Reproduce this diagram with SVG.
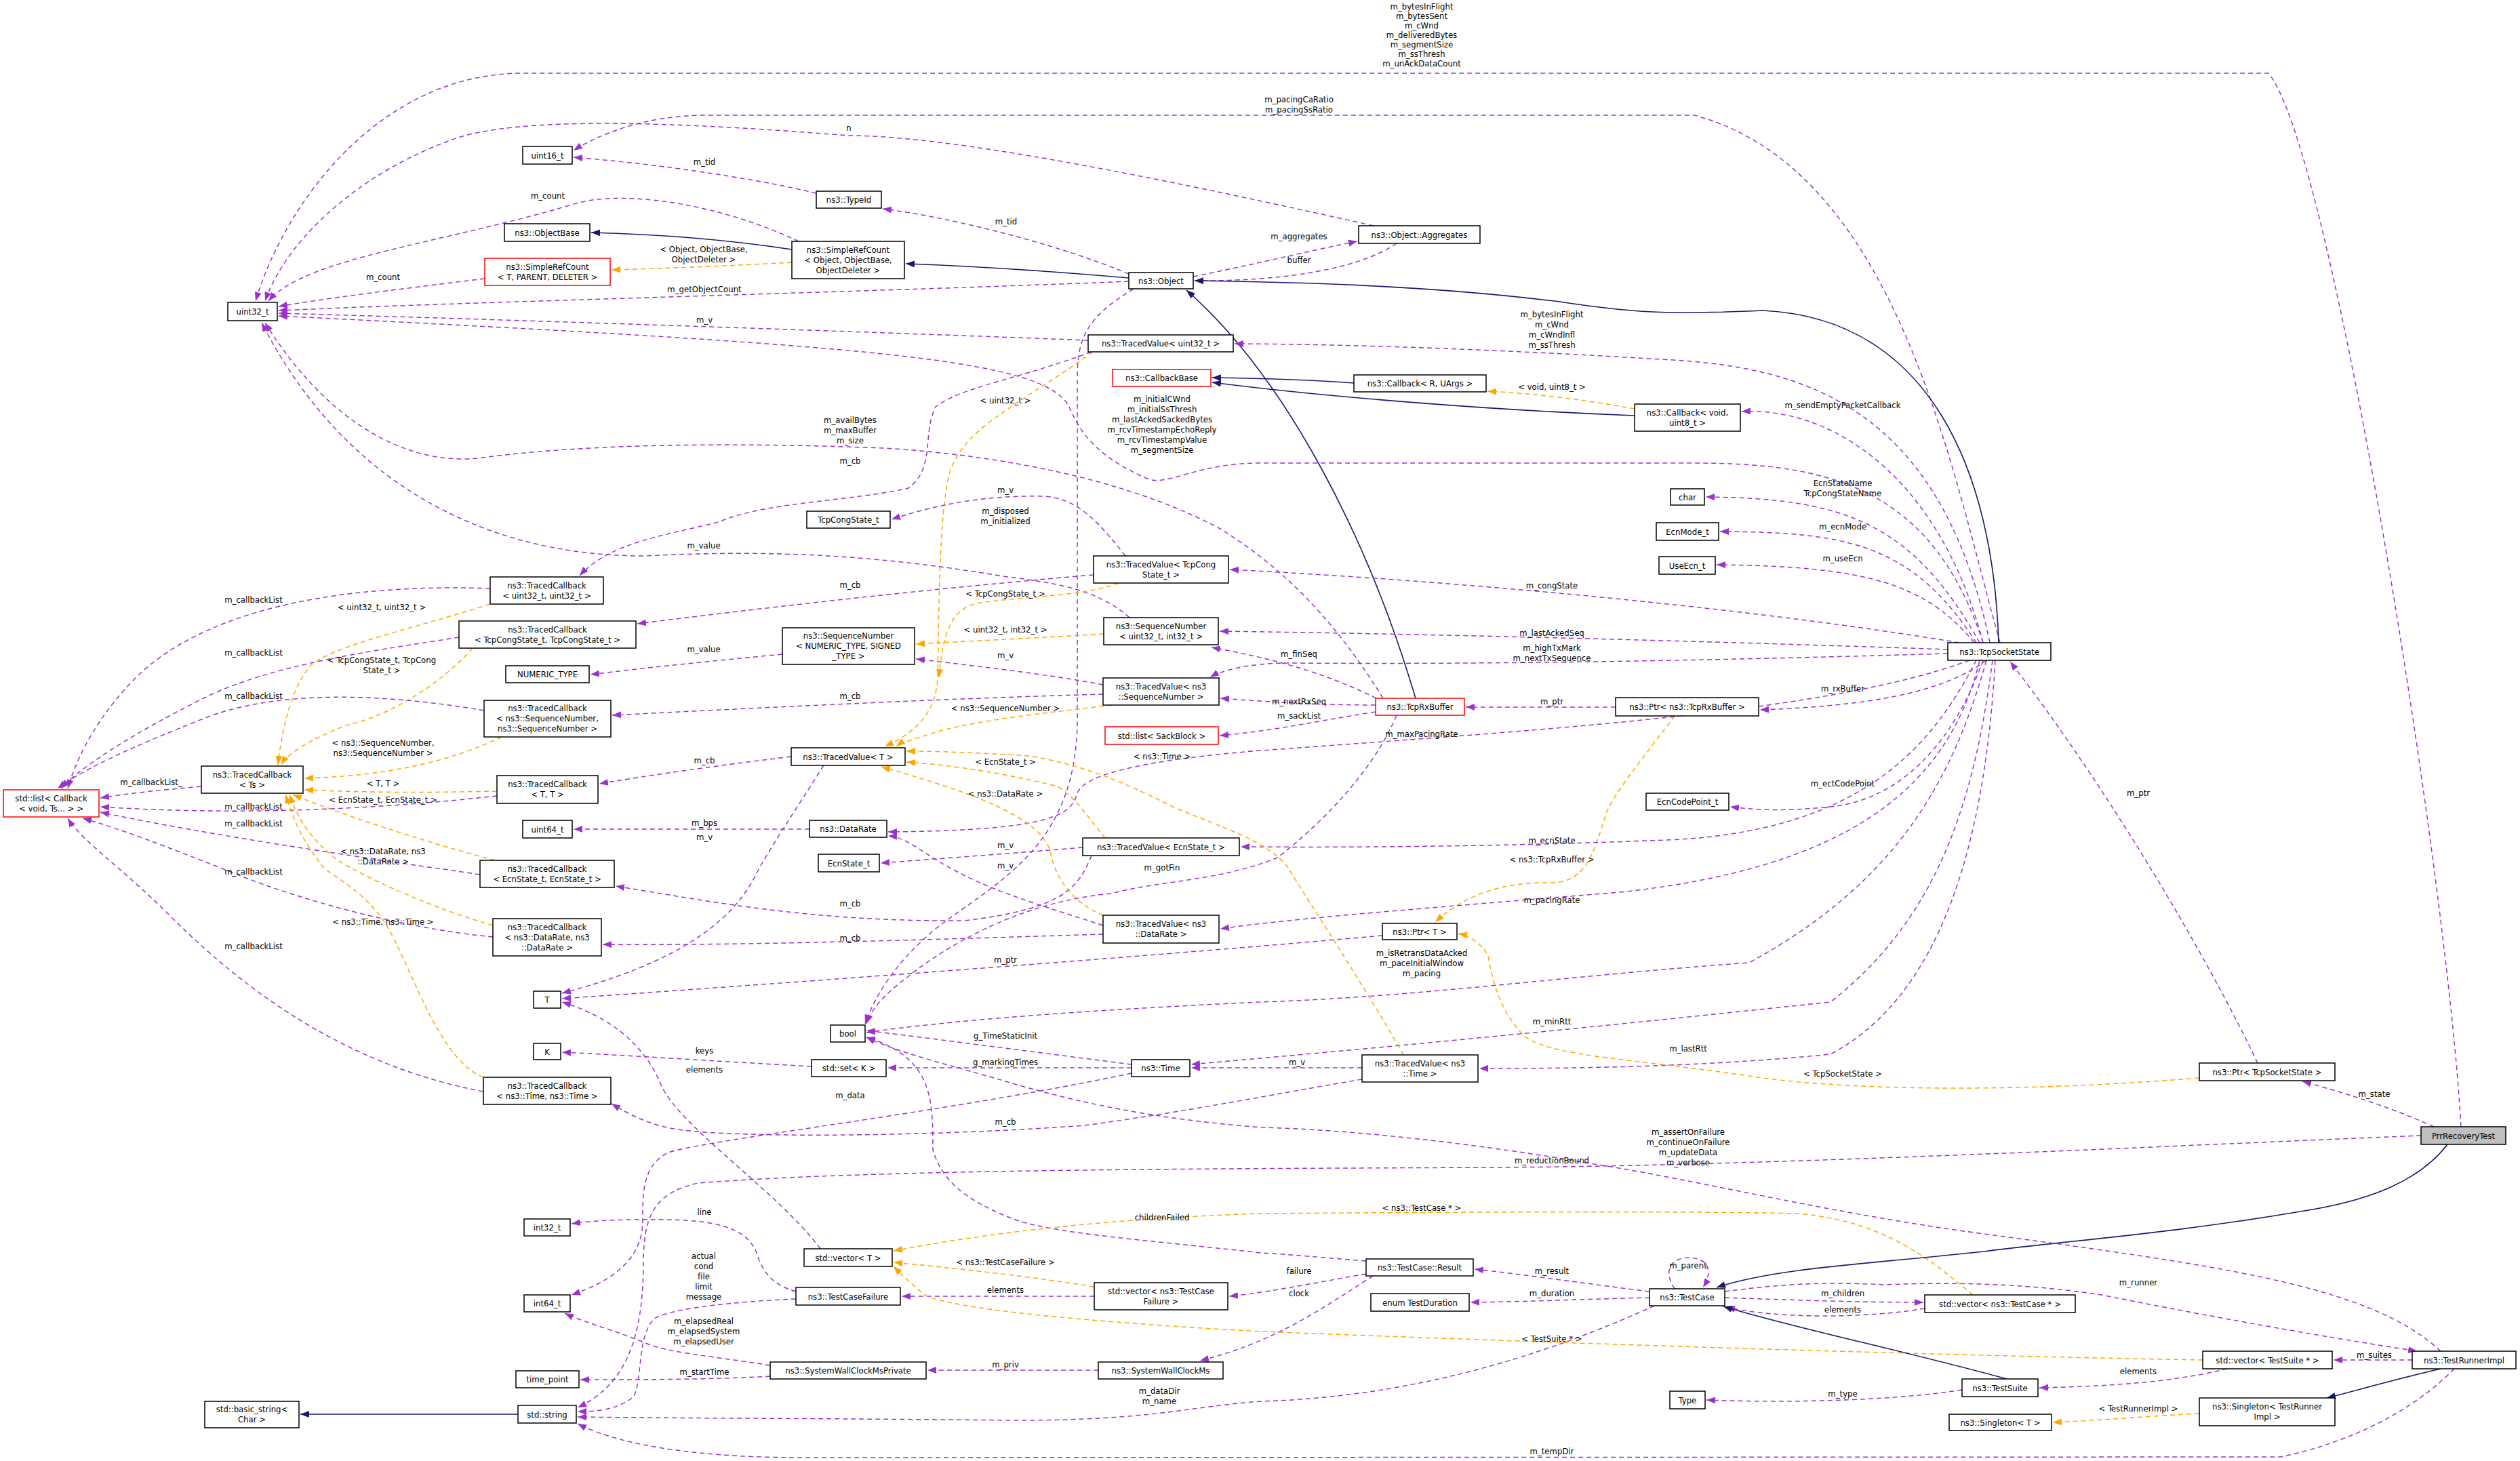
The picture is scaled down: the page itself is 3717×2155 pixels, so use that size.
<svg xmlns="http://www.w3.org/2000/svg" width="3717" height="2155" viewBox="0 0 3717 2155">
<style>
text{font-family:"DejaVu Sans Condensed","DejaVu Sans",sans-serif;font-size:13px;fill:#000}
.t{text-anchor:middle}
.l{text-anchor:middle}
.b rect{fill:#fff;stroke:#000;stroke-width:1.5}
.b.red rect{stroke:#ff0000}
.b.gray rect{fill:#bfbfbf}
.p{fill:none;stroke:#9a32cd;stroke-width:1.5;stroke-dasharray:7,5;marker-end:url(#mp)}
.o{fill:none;stroke:#ffa500;stroke-width:1.5;stroke-dasharray:7,5;marker-end:url(#mo)}
.n{fill:none;stroke:#191970;stroke-width:1.6;marker-end:url(#mn)}
</style>
<defs>
<marker id="mp" markerUnits="userSpaceOnUse" markerWidth="14" markerHeight="12" refX="13" refY="5" orient="auto"><path d="M0,0 L13,5 L0,10 z" fill="#9a32cd"/></marker>
<marker id="mo" markerUnits="userSpaceOnUse" markerWidth="14" markerHeight="12" refX="13" refY="5" orient="auto"><path d="M0,0 L13,5 L0,10 z" fill="#ffa500"/></marker>
<marker id="mn" markerUnits="userSpaceOnUse" markerWidth="14" markerHeight="12" refX="13" refY="5" orient="auto"><path d="M0,0 L13,5 L0,10 z" fill="#191970"/></marker>
</defs>
<rect width="3717" height="2155" fill="#fff"/>
<g id="edges">
<path class="p" d="M3630,1662 C3610,1300 3440,220 3346,108 L771,108 C560,108 420,300 377,444"/>
<path class="p" d="M2950,948 C2880,700 2800,250 2499,170 L1040,170 C950,170 880,200 846,222"/>
<path class="p" d="M2026,333 C1700,260 1400,200 1252,200 C1000,180 760,170 664,207 C520,260 420,360 391,444"/>
<path class="p" d="M1204,285 C1100,260 950,240 846,232"/>
<path class="p" d="M1665,404 C1560,360 1400,320 1302,308"/>
<path class="p" d="M1178,356 C1060,300 920,280 850,300 C650,360 450,380 396,444"/>
<path class="n" d="M1168,368 C1050,350 950,345 872,343"/>
<path class="o" d="M1168,387 C1080,392 980,396 902,398"/>
<path class="p" d="M715,411 C600,425 480,440 411,452"/>
<path class="n" d="M1665,410 C1550,400 1420,392 1336,389"/>
<path class="p" d="M1665,415 C1300,430 700,445 411,458"/>
<path class="p" d="M1605,502 C1300,490 700,470 411,462"/>
<path class="p" d="M1760,408 C1850,390 1940,368 2002,356"/>
<path class="p" d="M2060,359 C2000,400 1880,415 1762,414"/>
<path class="n" d="M2948,948 C2940,700 2850,470 2600,458 C2450,465 2400,460 2300,445 C2100,420 1900,416 1762,414"/>
<path class="n" d="M2088,1030 C2020,800 1900,560 1750,428"/>
<path class="p" d="M2935,948 C2860,590 2650,540 2450,530 C2200,515 2000,508 1821,507"/>
<path class="n" d="M1997,565 C1930,560 1850,558 1788,557"/>
<path class="n" d="M2411,613 C2200,605 1950,585 1788,564"/>
<path class="o" d="M2411,603 C2340,590 2260,580 2194,577"/>
<path class="p" d="M2925,948 C2860,700 2700,600 2569,607"/>
<path class="p" d="M1610,519 C1500,560 1420,570 1380,600 C1360,640 1380,690 1340,720 C1250,740 1130,740 1060,770 C980,790 900,800 855,849"/>
<path class="o" d="M1612,519 C1500,600 1420,630 1400,700 C1385,760 1385,900 1383,1000 C1380,1060 1340,1085 1305,1101"/>
<path class="p" d="M2925,948 C2850,720 2700,683 2499,683 L1860,683 C1760,683 1720,720 1690,705 C1610,670 1590,630 1577,600 C1540,530 1300,510 411,466"/>
<path class="p" d="M2040,1030 C1960,900 1880,830 1800,780 C1650,700 1450,670 1305,661 C1150,655 900,650 712,675 C600,690 480,620 391,476"/>
<path class="p" d="M1660,820 C1620,770 1590,735 1540,732 C1450,730 1380,745 1315,766"/>
<path class="p" d="M1672,426 C1600,470 1589,500 1589,560 L1589,1060 C1589,1250 1470,1300 1380,1370 C1320,1420 1290,1470 1276,1510"/>
<path class="p" d="M1666,911 C1620,870 1560,860 1480,850 C1300,820 1150,810 950,820 C700,820 500,700 386,476"/>
<path class="p" d="M1613,848 C1350,870 1100,900 940,920"/>
<path class="o" d="M1650,860 C1600,880 1500,880 1440,890 C1400,900 1390,940 1385,1000"/>
<path class="p" d="M723,868 C500,860 300,900 200,1000 C150,1050 115,1110 100,1163"/>
<path class="o" d="M723,891 C600,930 500,950 460,980 C430,1010 415,1080 410,1128"/>
<path class="p" d="M677,940 C550,960 400,980 300,1030 C200,1080 120,1130 90,1163"/>
<path class="o" d="M697,956 C640,1020 560,1060 510,1070 C460,1090 425,1110 415,1128"/>
<path class="o" d="M1628,935 C1550,940 1420,946 1351,950"/>
<path class="p" d="M1154,965 C1050,975 950,985 871,995"/>
<path class="p" d="M1627,1010 C1550,995 1420,980 1351,972"/>
<path class="p" d="M2873,964 C2500,975 2200,980 1900,978 C1840,978 1800,990 1785,999"/>
<path class="p" d="M2873,958 C2500,945 2100,935 1799,931"/>
<path class="p" d="M1627,1024 C1400,1030 1100,1045 903,1055"/>
<path class="o" d="M1640,1040 C1560,1050 1450,1060 1380,1080 C1350,1090 1330,1095 1322,1101"/>
<path class="p" d="M714,1048 C550,1020 400,1020 300,1060 C200,1100 130,1130 85,1163"/>
<path class="o" d="M740,1087 C650,1130 550,1145 449,1148"/>
<path class="p" d="M2920,948 C2820,770 2720,735 2516,733"/>
<path class="p" d="M2915,948 C2820,800 2720,785 2537,784"/>
<path class="p" d="M2912,948 C2840,860 2750,835 2532,833"/>
<path class="p" d="M2890,948 C2600,900 2200,860 1814,840"/>
<path class="p" d="M2930,974 C2880,1010 2800,1040 2596,1047"/>
<path class="p" d="M2383,1043 C2300,1043 2230,1043 2162,1043"/>
<path class="o" d="M2470,1056 C2430,1110 2380,1170 2369,1200 C2350,1260 2340,1300 2290,1302 C2200,1300 2150,1330 2117,1360"/>
<path class="p" d="M2030,1030 C1950,990 1870,970 1787,955"/>
<path class="p" d="M2029,1040 C1950,1040 1880,1036 1800,1030"/>
<path class="p" d="M2029,1050 C1950,1062 1880,1078 1799,1085"/>
<path class="p" d="M2905,974 C2700,1050 2300,1075 1860,1107 C1700,1120 1600,1140 1589,1170 C1580,1200 1560,1225 1310,1227"/>
<path class="p" d="M2060,1055 C2020,1150 1930,1230 1884,1265 C1800,1300 1700,1300 1640,1318 C1500,1330 1390,1400 1340,1440 C1300,1470 1285,1490 1278,1510"/>
<path class="p" d="M2925,974 C2880,1100 2800,1180 2700,1190 C2640,1196 2600,1196 2552,1190"/>
<path class="p" d="M2915,974 C2850,1100 2750,1220 2480,1238 C2200,1250 1950,1250 1830,1249"/>
<path class="p" d="M1597,1250 C1500,1258 1380,1267 1299,1273"/>
<path class="p" d="M1610,1262 C1590,1310 1570,1340 1423,1358 C1200,1360 1050,1330 908,1307"/>
<path class="o" d="M1630,1236 C1600,1200 1590,1180 1560,1160 C1480,1140 1400,1128 1337,1124"/>
<path class="p" d="M2920,974 C2870,1180 2700,1280 2400,1315 C2100,1340 1900,1355 1800,1370"/>
<path class="p" d="M1627,1365 C1550,1340 1480,1320 1420,1290 C1360,1260 1340,1235 1310,1233"/>
<path class="p" d="M1627,1378 C1400,1385 1100,1395 889,1393"/>
<path class="o" d="M1627,1350 C1600,1340 1560,1310 1550,1260 C1540,1200 1400,1160 1300,1131"/>
<path class="p" d="M1194,1223 C1100,1223 950,1223 846,1223"/>
<path class="p" d="M1167,1116 C1050,1130 950,1145 884,1156"/>
<path class="p" d="M1215,1129 C1170,1200 1130,1260 1115,1290 C1080,1360 1000,1420 829,1465"/>
<path class="p" d="M733,1174 C500,1200 300,1200 148,1190"/>
<path class="o" d="M733,1167 C600,1170 520,1168 449,1165"/>
<path class="p" d="M297,1160 C240,1165 190,1170 148,1177"/>
<path class="p" d="M708,1290 C500,1260 300,1230 148,1198"/>
<path class="o" d="M730,1269 C620,1240 500,1200 432,1172"/>
<path class="p" d="M727,1382 C600,1370 450,1330 350,1290 C250,1250 170,1220 122,1207"/>
<path class="o" d="M727,1365 C640,1340 550,1300 500,1270 C460,1240 440,1210 427,1172"/>
<path class="p" d="M713,1610 C500,1570 350,1450 250,1350 C180,1280 120,1240 100,1207"/>
<path class="o" d="M713,1589 C640,1560 600,1400 560,1350 C520,1300 480,1290 470,1270 C440,1230 430,1200 421,1172"/>
<path class="p" d="M2930,974 C2880,1150 2800,1300 2580,1420 C2300,1440 2100,1470 1860,1478 C1600,1490 1400,1505 1278,1523"/>
<path class="p" d="M2939,974 C2910,1200 2850,1360 2700,1478 C2400,1510 2100,1540 1757,1570"/>
<path class="p" d="M2943,974 C2930,1200 2880,1460 2700,1555 C2500,1575 2300,1576 2182,1576"/>
<path class="p" d="M2039,1380 C1700,1410 1300,1440 829,1473"/>
<path class="o" d="M3244,1590 C3000,1610 2750,1610 2600,1590 C2400,1560 2300,1560 2250,1530 C2210,1490 2200,1440 2195,1410 C2185,1390 2165,1380 2151,1377"/>
<path class="p" d="M3330,1568 C3250,1400 3100,1150 2965,976"/>
<path class="p" d="M3590,1662 C3520,1630 3450,1610 3396,1595"/>
<path class="p" d="M2009,1575 C1900,1575 1820,1575 1757,1575"/>
<path class="p" d="M2009,1592 C1900,1610 1750,1640 1600,1660 C1400,1675 1100,1680 1000,1666 C960,1660 930,1645 902,1628"/>
<path class="o" d="M2070,1556 C2010,1450 1930,1330 1900,1280 C1870,1240 1800,1220 1730,1190 C1650,1150 1600,1130 1520,1115 C1440,1110 1380,1108 1337,1108"/>
<path class="p" d="M1669,1570 C1550,1555 1400,1535 1278,1520"/>
<path class="p" d="M1669,1575 C1550,1575 1420,1575 1309,1575"/>
<path class="p" d="M1197,1573 C1050,1565 950,1558 829,1552"/>
<path class="p" d="M1210,1842 C1150,1760 1000,1660 975,1600 C950,1540 900,1500 829,1478"/>
<path class="p" d="M1669,1583 C1400,1640 1050,1680 985,1700 C950,1720 948,1750 948,1800 C948,1860 900,1890 843,1910"/>
<path class="p" d="M1174,1916 C1080,1920 990,1930 965,1945 C940,1970 948,2030 935,2060 C910,2080 880,2082 852,2082"/>
<path class="p" d="M1174,1905 C1140,1895 1130,1880 1120,1860 C1110,1820 1080,1800 980,1799 C920,1798 880,1800 843,1805"/>
<path class="o" d="M1614,1898 C1500,1880 1400,1870 1318,1862"/>
<path class="p" d="M1614,1912 C1500,1912 1400,1912 1330,1912"/>
<path class="p" d="M2015,1879 C1950,1890 1880,1905 1813,1912"/>
<path class="p" d="M2025,1882 C1950,1930 1880,1980 1770,2007"/>
<path class="p" d="M2015,1860 C1950,1855 1900,1850 1860,1848 C1700,1830 1560,1820 1500,1800 C1420,1770 1390,1740 1376,1697 C1376,1620 1376,1560 1278,1530"/>
<path class="p" d="M1620,2021 C1550,2021 1450,2021 1368,2021"/>
<path class="p" d="M1136,2014 C1050,2000 980,1995 950,1980 C900,1960 860,1950 833,1937"/>
<path class="p" d="M1136,2030 C1050,2035 950,2035 856,2035"/>
<path class="n" d="M764,2086 C650,2086 550,2086 443,2086"/>
<path class="p" d="M2433,1905 C2350,1895 2250,1880 2175,1872"/>
<path class="p" d="M2433,1914 C2350,1916 2250,1920 2169,1921"/>
<path class="p" d="M2470,1901 C2450,1870 2470,1855 2490,1855 C2515,1855 2530,1870 2512,1899"/>
<path class="p" d="M2544,1914 C2650,1918 2750,1921 2837,1921"/>
<path class="p" d="M2839,1930 C2750,1945 2620,1945 2546,1928"/>
<path class="o" d="M2910,1910 C2850,1860 2780,1800 2650,1790 C2500,1786 2100,1788 1860,1790 C1700,1795 1500,1810 1318,1845"/>
<path class="p" d="M2440,1926 C2300,1990 2100,2060 1860,2067 C1750,2075 1700,2095 1500,2095 C1200,2092 1000,2092 852,2090"/>
<path class="o" d="M3249,2006 C2900,2000 2400,1985 1860,1964 C1600,1950 1400,1930 1364,1910 C1340,1890 1330,1880 1318,1868"/>
<path class="p" d="M3558,2006 C3520,2006 3480,2006 3442,2006"/>
<path class="p" d="M3285,2019 C3200,2040 3100,2045 3008,2047"/>
<path class="n" d="M2960,2034 C2800,1990 2650,1960 2542,1927"/>
<path class="p" d="M2894,2050 C2800,2065 2650,2070 2517,2065"/>
<path class="n" d="M3600,2019 C3530,2035 3480,2050 3432,2062"/>
<path class="o" d="M3244,2085 C3150,2090 3100,2095 3028,2098"/>
<path class="n" d="M3610,1688 C3570,1740 3500,1770 3399,1786 C3200,1820 3050,1830 2926,1846 C2750,1865 2620,1870 2532,1899"/>
<path class="p" d="M2544,1905 C2620,1895 2680,1890 2780,1895 C2900,1890 3000,1895 3100,1910 C3300,1950 3450,1975 3565,1993"/>
<path class="p" d="M3600,1993 C3500,1900 3300,1870 2926,1820 C2700,1790 2500,1740 2357,1718 C2200,1690 2000,1666 1860,1663 C1700,1650 1600,1628 1500,1600 C1400,1570 1330,1555 1278,1530"/>
<path class="p" d="M3571,1675 C3200,1690 2600,1720 2200,1722 C1800,1724 1300,1724 1030,1745 C960,1760 950,1800 949,1860 C949,1960 930,2040 852,2076"/>
<path class="p" d="M3620,2019 C3580,2060 3500,2120 3364,2149 L1186,2150 C1000,2150 900,2125 852,2100"/>
</g>
<g id="labels">
<text class="l" x="2097" y="14">m_bytesInFlight</text>
<text class="l" x="2097" y="28">m_bytesSent</text>
<text class="l" x="2097" y="42">m_cWnd</text>
<text class="l" x="2097" y="56">m_deliveredBytes</text>
<text class="l" x="2097" y="70">m_segmentSize</text>
<text class="l" x="2097" y="84">m_ssThresh</text>
<text class="l" x="2097" y="98">m_unAckDataCount</text>
<text class="l" x="1916" y="151">m_pacingCaRatio</text>
<text class="l" x="1916" y="166">m_pacingSsRatio</text>
<text class="l" x="1252" y="193">n</text>
<text class="l" x="1039" y="243">m_tid</text>
<text class="l" x="1484" y="331">m_tid</text>
<text class="l" x="808" y="293">m_count</text>
<text class="l" x="1038" y="372">&lt; Object, ObjectBase,</text>
<text class="l" x="1038" y="387">ObjectDeleter &gt;</text>
<text class="l" x="565" y="413">m_count</text>
<text class="l" x="1039" y="431">m_getObjectCount</text>
<text class="l" x="1039" y="476">m_v</text>
<text class="l" x="1916" y="353">m_aggregates</text>
<text class="l" x="1916" y="388">buffer</text>
<text class="l" x="2289" y="468">m_bytesInFlight</text>
<text class="l" x="2289" y="483">m_cWnd</text>
<text class="l" x="2289" y="498">m_cWndInfl</text>
<text class="l" x="2289" y="513">m_ssThresh</text>
<text class="l" x="2289" y="575">&lt; void, uint8_t &gt;</text>
<text class="l" x="2718" y="602">m_sendEmptyPacketCallback</text>
<text class="l" x="1483" y="595">&lt; uint32_t &gt;</text>
<text class="l" x="1714" y="593">m_initialCWnd</text>
<text class="l" x="1714" y="608">m_initialSsThresh</text>
<text class="l" x="1714" y="623">m_lastAckedSackedBytes</text>
<text class="l" x="1714" y="638">m_rcvTimestampEchoReply</text>
<text class="l" x="1714" y="653">m_rcvTimestampValue</text>
<text class="l" x="1714" y="668">m_segmentSize</text>
<text class="l" x="1254" y="624">m_availBytes</text>
<text class="l" x="1254" y="639">m_maxBuffer</text>
<text class="l" x="1254" y="654">m_size</text>
<text class="l" x="1254" y="684">m_cb</text>
<text class="l" x="1483" y="727">m_v</text>
<text class="l" x="1483" y="758">m_disposed</text>
<text class="l" x="1483" y="773">m_initialized</text>
<text class="l" x="2718" y="717">EcnStateName</text>
<text class="l" x="2718" y="732">TcpCongStateName</text>
<text class="l" x="2718" y="781">m_ecnMode</text>
<text class="l" x="2718" y="828">m_useEcn</text>
<text class="l" x="1038" y="809">m_value</text>
<text class="l" x="2289" y="868">m_congState</text>
<text class="l" x="1254" y="867">m_cb</text>
<text class="l" x="1483" y="880">&lt; TcpCongState_t &gt;</text>
<text class="l" x="374" y="889">m_callbackList</text>
<text class="l" x="563" y="900">&lt; uint32_t, uint32_t &gt;</text>
<text class="l" x="374" y="967">m_callbackList</text>
<text class="l" x="563" y="978">&lt; TcpCongState_t, TcpCong</text>
<text class="l" x="563" y="993">State_t &gt;</text>
<text class="l" x="1483" y="933">&lt; uint32_t, int32_t &gt;</text>
<text class="l" x="2289" y="938">m_lastAckedSeq</text>
<text class="l" x="2289" y="960">m_highTxMark</text>
<text class="l" x="2289" y="975">m_nextTxSequence</text>
<text class="l" x="1038" y="962">m_value</text>
<text class="l" x="1483" y="971">m_v</text>
<text class="l" x="1916" y="969">m_finSeq</text>
<text class="l" x="1254" y="1031">m_cb</text>
<text class="l" x="374" y="1031">m_callbackList</text>
<text class="l" x="1483" y="1049">&lt; ns3::SequenceNumber &gt;</text>
<text class="l" x="2718" y="1020">m_rxBuffer</text>
<text class="l" x="2289" y="1039">m_ptr</text>
<text class="l" x="1916" y="1039">m_nextRxSeq</text>
<text class="l" x="1916" y="1060">m_sackList</text>
<text class="l" x="2097" y="1087">m_maxPacingRate</text>
<text class="l" x="565" y="1100">&lt; ns3::SequenceNumber,</text>
<text class="l" x="565" y="1115">ns3::SequenceNumber &gt;</text>
<text class="l" x="1714" y="1120">&lt; ns3::Time &gt;</text>
<text class="l" x="1039" y="1126">m_cb</text>
<text class="l" x="1483" y="1128">&lt; EcnState_t &gt;</text>
<text class="l" x="223" y="1158">m_callbackList_</text>
<text class="l" x="565" y="1160">&lt; T, T &gt;</text>
<text class="l" x="2718" y="1160">m_ectCodePoint</text>
<text class="l" x="3154" y="1174">m_ptr</text>
<text class="l" x="1483" y="1175">&lt; ns3::DataRate &gt;</text>
<text class="l" x="565" y="1184">&lt; EcnState_t, EcnState_t &gt;</text>
<text class="l" x="374" y="1194">m_callbackList</text>
<text class="l" x="1039" y="1218">m_bps</text>
<text class="l" x="374" y="1219">m_callbackList</text>
<text class="l" x="1039" y="1239">m_v</text>
<text class="l" x="2289" y="1244">m_ecnState</text>
<text class="l" x="1483" y="1251">m_v</text>
<text class="l" x="565" y="1260">&lt; ns3::DataRate, ns3</text>
<text class="l" x="565" y="1275">::DataRate &gt;</text>
<text class="l" x="2289" y="1272">&lt; ns3::TcpRxBuffer &gt;</text>
<text class="l" x="1483" y="1281">m_v</text>
<text class="l" x="1714" y="1284">m_gotFin</text>
<text class="l" x="374" y="1290">m_callbackList</text>
<text class="l" x="2289" y="1332">m_pacingRate</text>
<text class="l" x="1254" y="1337">m_cb</text>
<text class="l" x="565" y="1364">&lt; ns3::Time, ns3::Time &gt;</text>
<text class="l" x="1254" y="1388">m_cb</text>
<text class="l" x="374" y="1400">m_callbackList</text>
<text class="l" x="2097" y="1410">m_isRetransDataAcked</text>
<text class="l" x="2097" y="1425">m_paceInitialWindow</text>
<text class="l" x="2097" y="1440">m_pacing</text>
<text class="l" x="1483" y="1420">m_ptr</text>
<text class="l" x="2289" y="1511">m_minRtt</text>
<text class="l" x="1483" y="1532">g_TimeStaticInit</text>
<text class="l" x="1039" y="1554">keys</text>
<text class="l" x="2490" y="1551">m_lastRtt</text>
<text class="l" x="1483" y="1571">g_markingTimes</text>
<text class="l" x="1913" y="1571">m_v</text>
<text class="l" x="1039" y="1582">elements</text>
<text class="l" x="2718" y="1588">&lt; TcpSocketState &gt;</text>
<text class="l" x="3502" y="1618">m_state</text>
<text class="l" x="1254" y="1620">m_data</text>
<text class="l" x="1483" y="1659">m_cb</text>
<text class="l" x="2490" y="1674">m_assertOnFailure</text>
<text class="l" x="2490" y="1689">m_continueOnFailure</text>
<text class="l" x="2490" y="1704">m_updateData</text>
<text class="l" x="2490" y="1719">m_verbose</text>
<text class="l" x="2289" y="1716">m_reductionBound</text>
<text class="l" x="2097" y="1786">&lt; ns3::TestCase * &gt;</text>
<text class="l" x="1039" y="1792">line</text>
<text class="l" x="1714" y="1800">childrenFailed</text>
<text class="l" x="1038" y="1857">actual</text>
<text class="l" x="1038" y="1872">cond</text>
<text class="l" x="1038" y="1887">file</text>
<text class="l" x="1038" y="1902">limit</text>
<text class="l" x="1038" y="1917">message</text>
<text class="l" x="1483" y="1866">&lt; ns3::TestCaseFailure &gt;</text>
<text class="l" x="2490" y="1871">m_parent</text>
<text class="l" x="1916" y="1879">failure</text>
<text class="l" x="2289" y="1879">m_result</text>
<text class="l" x="3154" y="1896">m_runner</text>
<text class="l" x="1483" y="1907">elements</text>
<text class="l" x="1916" y="1912">clock</text>
<text class="l" x="2289" y="1912">m_duration</text>
<text class="l" x="2718" y="1912">m_children</text>
<text class="l" x="2718" y="1936">elements</text>
<text class="l" x="1038" y="1953">m_elapsedReal</text>
<text class="l" x="1038" y="1968">m_elapsedSystem</text>
<text class="l" x="1038" y="1983">m_elapsedUser</text>
<text class="l" x="2289" y="1979">&lt; TestSuite * &gt;</text>
<text class="l" x="3502" y="2003">m_suites</text>
<text class="l" x="1483" y="2017">m_priv</text>
<text class="l" x="3154" y="2027">elements</text>
<text class="l" x="1039" y="2028">m_startTime</text>
<text class="l" x="1710" y="2056">m_dataDir</text>
<text class="l" x="1710" y="2071">m_name</text>
<text class="l" x="2718" y="2060">m_type</text>
<text class="l" x="3154" y="2082">&lt; TestRunnerImpl &gt;</text>
<text class="l" x="2289" y="2145">m_tempDir</text>
</g>
<g id="n_uint16" class="b"><rect x="771" y="216" width="73" height="26"/><text class="t" x="807.5" y="234">uint16_t</text></g>
<g id="n_typeid" class="b"><rect x="1204" y="282" width="96" height="25"/><text class="t" x="1252" y="299">ns3::TypeId</text></g>
<g id="n_objbase" class="b"><rect x="744" y="330" width="126" height="26"/><text class="t" x="807" y="348">ns3::ObjectBase</text></g>
<g id="n_src_t" class="b red"><rect x="715" y="381" width="185" height="40"/><text class="t" x="807.5" y="398">ns3::SimpleRefCount</text><text class="t" x="807.5" y="413">&lt; T, PARENT, DELETER &gt;</text></g>
<g id="n_src_obj" class="b"><rect x="1168" y="356" width="166" height="55"/><text class="t" x="1251" y="373">ns3::SimpleRefCount</text><text class="t" x="1251" y="388">&lt; Object, ObjectBase,</text><text class="t" x="1251" y="403">ObjectDeleter &gt;</text></g>
<g id="n_object" class="b"><rect x="1665" y="402" width="95" height="24"/><text class="t" x="1712.5" y="419">ns3::Object</text></g>
<g id="n_uint32" class="b"><rect x="336" y="446" width="73" height="27"/><text class="t" x="372.5" y="464">uint32_t</text></g>
<g id="n_tv_u32" class="b"><rect x="1605" y="494" width="214" height="25"/><text class="t" x="1712" y="511">ns3::TracedValue&lt; uint32_t &gt;</text></g>
<g id="n_cbbase" class="b red"><rect x="1641" y="545" width="145" height="25"/><text class="t" x="1713.5" y="562">ns3::CallbackBase</text></g>
<g id="n_tcs" class="b"><rect x="1190" y="754" width="123" height="25"/><text class="t" x="1251.5" y="771">TcpCongState_t</text></g>
<g id="n_tc_u32" class="b"><rect x="723" y="851" width="167" height="40"/><text class="t" x="806.5" y="868">ns3::TracedCallback</text><text class="t" x="806.5" y="883">&lt; uint32_t, uint32_t &gt;</text></g>
<g id="n_tv_tcs" class="b"><rect x="1613" y="820" width="199" height="40"/><text class="t" x="1712.5" y="837">ns3::TracedValue&lt; TcpCong</text><text class="t" x="1712.5" y="852">State_t &gt;</text></g>
<g id="n_tc_tcs" class="b"><rect x="677" y="916" width="261" height="40"/><text class="t" x="807.5" y="933">ns3::TracedCallback</text><text class="t" x="807.5" y="948">&lt; TcpCongState_t, TcpCongState_t &gt;</text></g>
<g id="n_seq_num" class="b"><rect x="1154" y="926" width="195" height="54"/><text class="t" x="1251.5" y="942">ns3::SequenceNumber</text><text class="t" x="1251.5" y="957">&lt; NUMERIC_TYPE, SIGNED</text><text class="t" x="1251.5" y="972">_TYPE &gt;</text></g>
<g id="n_seq_u32" class="b"><rect x="1628" y="911" width="169" height="40"/><text class="t" x="1712.5" y="928">ns3::SequenceNumber</text><text class="t" x="1712.5" y="943">&lt; uint32_t, int32_t &gt;</text></g>
<g id="n_numtype" class="b"><rect x="746" y="982" width="123" height="25"/><text class="t" x="807.5" y="999">NUMERIC_TYPE</text></g>
<g id="n_tv_seq" class="b"><rect x="1627" y="1000" width="171" height="40"/><text class="t" x="1712.5" y="1017">ns3::TracedValue&lt; ns3</text><text class="t" x="1712.5" y="1032">::SequenceNumber &gt;</text></g>
<g id="n_tc_seq" class="b"><rect x="714" y="1033" width="187" height="54"/><text class="t" x="807.5" y="1049">ns3::TracedCallback</text><text class="t" x="807.5" y="1064">&lt; ns3::SequenceNumber,</text><text class="t" x="807.5" y="1079">ns3::SequenceNumber &gt;</text></g>
<g id="n_sack" class="b red"><rect x="1630" y="1072" width="167" height="26"/><text class="t" x="1713.5" y="1090">std::list&lt; SackBlock &gt;</text></g>
<g id="n_aggr" class="b"><rect x="2004" y="333" width="179" height="26"/><text class="t" x="2093.5" y="351">ns3::Object::Aggregates</text></g>
<g id="n_cbr" class="b"><rect x="1997" y="553" width="195" height="25"/><text class="t" x="2094.5" y="570">ns3::Callback&lt; R, UArgs &gt;</text></g>
<g id="n_cbv" class="b"><rect x="2411" y="596" width="156" height="40"/><text class="t" x="2489" y="613">ns3::Callback&lt; void,</text><text class="t" x="2489" y="628">uint8_t &gt;</text></g>
<g id="n_char" class="b"><rect x="2464" y="721" width="50" height="24"/><text class="t" x="2489" y="738">char</text></g>
<g id="n_ecnmode" class="b"><rect x="2443" y="771" width="92" height="26"/><text class="t" x="2489" y="789">EcnMode_t</text></g>
<g id="n_useecn" class="b"><rect x="2447" y="821" width="83" height="26"/><text class="t" x="2488.5" y="839">UseEcn_t</text></g>
<g id="n_tss" class="b"><rect x="2873" y="948" width="152" height="26"/><text class="t" x="2949" y="966">ns3::TcpSocketState</text></g>
<g id="n_rxbuf" class="b red"><rect x="2029" y="1030" width="131" height="25"/><text class="t" x="2094.5" y="1047">ns3::TcpRxBuffer</text></g>
<g id="n_ptr_rx" class="b"><rect x="2383" y="1029" width="211" height="27"/><text class="t" x="2488.5" y="1047">ns3::Ptr&lt; ns3::TcpRxBuffer &gt;</text></g>
<g id="n_list_cb" class="b red"><rect x="5" y="1165" width="141" height="40"/><text class="t" x="75.5" y="1182">std::list&lt; Callback</text><text class="t" x="75.5" y="1197">&lt; void, Ts... &gt; &gt;</text></g>
<g id="n_tc_ts" class="b"><rect x="297" y="1130" width="150" height="40"/><text class="t" x="372" y="1147">ns3::TracedCallback</text><text class="t" x="372" y="1162">&lt; Ts &gt;</text></g>
<g id="n_tv_t" class="b"><rect x="1167" y="1103" width="168" height="26"/><text class="t" x="1251" y="1121">ns3::TracedValue&lt; T &gt;</text></g>
<g id="n_tc_tt" class="b"><rect x="733" y="1144" width="149" height="41"/><text class="t" x="807.5" y="1161">ns3::TracedCallback</text><text class="t" x="807.5" y="1176">&lt; T, T &gt;</text></g>
<g id="n_uint64" class="b"><rect x="771" y="1210" width="73" height="26"/><text class="t" x="807.5" y="1228">uint64_t</text></g>
<g id="n_datarate" class="b"><rect x="1194" y="1210" width="114" height="25"/><text class="t" x="1251" y="1227">ns3::DataRate</text></g>
<g id="n_tv_ecn" class="b"><rect x="1597" y="1236" width="231" height="26"/><text class="t" x="1712.5" y="1254">ns3::TracedValue&lt; EcnState_t &gt;</text></g>
<g id="n_ecnstate" class="b"><rect x="1207" y="1260" width="90" height="26"/><text class="t" x="1252" y="1278">EcnState_t</text></g>
<g id="n_tc_ecn" class="b"><rect x="708" y="1269" width="198" height="40"/><text class="t" x="807" y="1286">ns3::TracedCallback</text><text class="t" x="807" y="1301">&lt; EcnState_t, EcnState_t &gt;</text></g>
<g id="n_tv_dr" class="b"><rect x="1627" y="1350" width="171" height="41"/><text class="t" x="1712.5" y="1367">ns3::TracedValue&lt; ns3</text><text class="t" x="1712.5" y="1382">::DataRate &gt;</text></g>
<g id="n_tc_dr" class="b"><rect x="727" y="1355" width="160" height="55"/><text class="t" x="807" y="1372">ns3::TracedCallback</text><text class="t" x="807" y="1387">&lt; ns3::DataRate, ns3</text><text class="t" x="807" y="1402">::DataRate &gt;</text></g>
<g id="n_T" class="b"><rect x="787" y="1462" width="40" height="25"/><text class="t" x="807" y="1479">T</text></g>
<g id="n_bool" class="b"><rect x="1225" y="1512" width="51" height="25"/><text class="t" x="1250.5" y="1529">bool</text></g>
<g id="n_K" class="b"><rect x="787" y="1539" width="40" height="24"/><text class="t" x="807" y="1556">K</text></g>
<g id="n_set" class="b"><rect x="1197" y="1563" width="110" height="25"/><text class="t" x="1252" y="1580">std::set&lt; K &gt;</text></g>
<g id="n_time" class="b"><rect x="1669" y="1563" width="86" height="25"/><text class="t" x="1712" y="1580">ns3::Time</text></g>
<g id="n_tc_time" class="b"><rect x="713" y="1589" width="188" height="40"/><text class="t" x="807" y="1606">ns3::TracedCallback</text><text class="t" x="807" y="1621">&lt; ns3::Time, ns3::Time &gt;</text></g>
<g id="n_int32" class="b"><rect x="773" y="1798" width="68" height="25"/><text class="t" x="807" y="1815">int32_t</text></g>
<g id="n_vec_t" class="b"><rect x="1186" y="1842" width="130" height="26"/><text class="t" x="1251" y="1860">std::vector&lt; T &gt;</text></g>
<g id="n_tcf" class="b"><rect x="1174" y="1899" width="154" height="26"/><text class="t" x="1251" y="1917">ns3::TestCaseFailure</text></g>
<g id="n_vec_tcf" class="b"><rect x="1614" y="1892" width="197" height="40"/><text class="t" x="1712.5" y="1909">std::vector&lt; ns3::TestCase</text><text class="t" x="1712.5" y="1924">Failure &gt;</text></g>
<g id="n_int64" class="b"><rect x="773" y="1910" width="68" height="25"/><text class="t" x="807" y="1927">int64_t</text></g>
<g id="n_swcp" class="b"><rect x="1136" y="2009" width="230" height="25"/><text class="t" x="1251" y="2026">ns3::SystemWallClockMsPrivate</text></g>
<g id="n_swc" class="b"><rect x="1620" y="2009" width="184" height="25"/><text class="t" x="1712" y="2026">ns3::SystemWallClockMs</text></g>
<g id="n_timepoint" class="b"><rect x="761" y="2022" width="93" height="25"/><text class="t" x="807.5" y="2039">time_point</text></g>
<g id="n_bstr" class="b"><rect x="302" y="2067" width="139" height="39"/><text class="t" x="371.5" y="2083">std::basic_string&lt;</text><text class="t" x="371.5" y="2098">Char &gt;</text></g>
<g id="n_str" class="b"><rect x="764" y="2073" width="86" height="26"/><text class="t" x="807" y="2091">std::string</text></g>
<g id="n_ecncp" class="b"><rect x="2428" y="1170" width="122" height="25"/><text class="t" x="2489" y="1187">EcnCodePoint_t</text></g>
<g id="n_ptr_t" class="b"><rect x="2039" y="1362" width="110" height="24"/><text class="t" x="2094" y="1379">ns3::Ptr&lt; T &gt;</text></g>
<g id="n_tv_time" class="b"><rect x="2009" y="1556" width="171" height="40"/><text class="t" x="2094.5" y="1573">ns3::TracedValue&lt; ns3</text><text class="t" x="2094.5" y="1588">::Time &gt;</text></g>
<g id="n_ptr_tss" class="b"><rect x="3244" y="1568" width="200" height="26"/><text class="t" x="3344" y="1586">ns3::Ptr&lt; TcpSocketState &gt;</text></g>
<g id="n_prr" class="b gray"><rect x="3571" y="1662" width="125" height="26"/><text class="t" x="3633.5" y="1680">PrrRecoveryTest</text></g>
<g id="n_result" class="b"><rect x="2015" y="1857" width="158" height="25"/><text class="t" x="2094" y="1874">ns3::TestCase::Result</text></g>
<g id="n_testcase" class="b"><rect x="2433" y="1901" width="111" height="25"/><text class="t" x="2488.5" y="1918">ns3::TestCase</text></g>
<g id="n_duration" class="b"><rect x="2022" y="1908" width="145" height="26"/><text class="t" x="2094.5" y="1926">enum TestDuration</text></g>
<g id="n_vec_tc" class="b"><rect x="2839" y="1910" width="222" height="26"/><text class="t" x="2950" y="1928">std::vector&lt; ns3::TestCase * &gt;</text></g>
<g id="n_vec_ts" class="b"><rect x="3249" y="1993" width="191" height="26"/><text class="t" x="3344.5" y="2011">std::vector&lt; TestSuite * &gt;</text></g>
<g id="n_runner" class="b"><rect x="3558" y="1993" width="153" height="26"/><text class="t" x="3634.5" y="2011">ns3::TestRunnerImpl</text></g>
<g id="n_suite" class="b"><rect x="2894" y="2034" width="112" height="26"/><text class="t" x="2950" y="2052">ns3::TestSuite</text></g>
<g id="n_type" class="b"><rect x="2463" y="2052" width="52" height="26"/><text class="t" x="2489" y="2070">Type</text></g>
<g id="n_singl_tr" class="b"><rect x="3244" y="2062" width="200" height="41"/><text class="t" x="3344" y="2079">ns3::Singleton&lt; TestRunner</text><text class="t" x="3344" y="2094">Impl &gt;</text></g>
<g id="n_singl_t" class="b"><rect x="2875" y="2086" width="151" height="24"/><text class="t" x="2950.5" y="2103">ns3::Singleton&lt; T &gt;</text></g>
</svg>
